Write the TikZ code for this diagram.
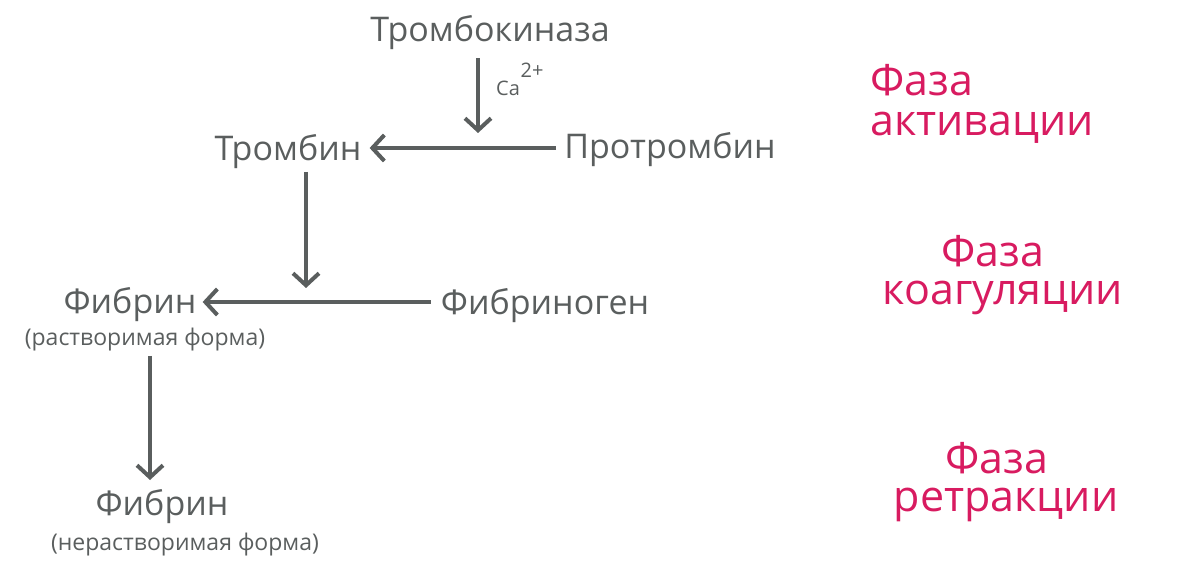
\documentclass[tikz,border=0pt]{standalone}
\usepackage{fontspec}
\setmainfont{Open Sans}
\usetikzlibrary{arrows.meta,calc}
\definecolor{tg}{HTML}{5A5E5E}
\definecolor{ph}{HTML}{D81B60}
\begin{document}
\begin{tikzpicture}[x=1pt,y=-1pt,
  lab/.style={text=tg,font=\fontsize{34}{36}\selectfont,inner sep=0pt},
  sub/.style={text=tg,font=\fontsize{23}{25}\selectfont,inner sep=0pt},
  phase/.style={text=ph,font=\fontsize{43}{46}\selectfont,inner sep=0pt},
  arr/.style={draw=tg,line width=4pt,-{Straight Barb[length=12pt,width=26pt,line width=4pt]}}]
\useasboundingbox (0,0) rectangle (1181,577);
\node[lab] (tk) at (490,33) {Тромбокиназа};
\node[sub,font=\fontsize{20}{22}\selectfont] (ca) at (508,88) {Ca};
\node[sub,font=\fontsize{20}{22}\selectfont] (ca2) at (532,70) {2+};
\node[lab] (tr) at (288,152) {Тромбин};
\node[lab] (ptr) at (670,150) {Протромбин};
\node[lab] (f1) at (130,305) {Фибрин};
\node[sub] (f1s) at (145,340) {(растворимая форма)};
\node[lab] (fg) at (545,306) {Фибриноген};
\node[lab] (f2) at (162,507) {Фибрин};
\node[sub] (f2s) at (185,545) {(нерастворимая форма)};
\node[phase,anchor=west] (p1a) at (870,80) {Фаза};
\node[phase,anchor=west] (p1b) at (870,128) {активации};
\node[phase] (p2a) at (993,251) {Фаза};
\node[phase] (p2b) at (1003,298) {коагуляции};
\node[phase] (p3a) at (997,458) {Фаза};
\node[phase] (p3b) at (1006,505) {ретракции};
\coordinate (c1) at (478,133);
\coordinate (c2) at (306,288);
\draw[arr] ($(tk.south -| c1)+(0,8)$) -- (c1);
\draw[arr] ($(ptr.west)+(-8,-2)$) -- ($(tr.east)+(8,-4)$);
\draw[arr] (306,172) -- (c2);
\draw[arr] ($(fg.west)+(-10,-4)$) -- ($(f1.east)+(6,-3)$);
\draw[arr] (150,356) -- (150,480);
\end{tikzpicture}
\end{document}
